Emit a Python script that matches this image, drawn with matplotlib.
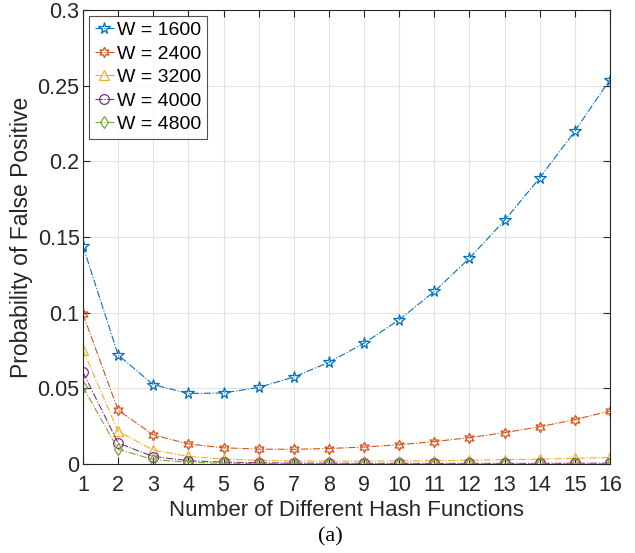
# False positive probability vs. number of hash functions, for several W

import numpy as np
import matplotlib
matplotlib.use("Agg")
import matplotlib.pyplot as plt

# values
hash_counts = np.arange(1, 17)
widths = ["1600", "2400", "3200", "4000", "4800"]

fp_1600 = [0.144, 0.072, 0.0524, 0.0466, 0.0469, 0.0506, 0.0574, 0.0672,
           0.0798, 0.0953, 0.114, 0.136, 0.161, 0.189, 0.220, 0.254]
fp_2400 = [0.099, 0.0355, 0.0193, 0.0132, 0.0107, 0.0098, 0.0097, 0.0102,
           0.0112, 0.0127, 0.0148, 0.0174, 0.0207, 0.0246, 0.0293, 0.0350]
fp_3200 = [0.0753, 0.0216, 0.0092, 0.0050, 0.0032, 0.0024, 0.0020, 0.0019,
           0.0019, 0.0020, 0.0022, 0.0025, 0.0028, 0.0032, 0.0037, 0.0043]
fp_4000 = [0.0606, 0.0138, 0.0049, 0.0022, 0.0012, 0.0008, 0.0006, 0.0005,
           0.0004, 0.0004, 0.0004, 0.0004, 0.0004, 0.0004, 0.0005, 0.0005]
fp_4800 = [0.0508, 0.0097, 0.0029, 0.0011, 0.0005, 0.0003, 0.0002, 0.0002,
           0.0001, 0.0001, 0.0001, 0.0001, 0.0001, 0.0001, 0.0001, 0.0001]

series = [fp_1600, fp_2400, fp_3200, fp_4000, fp_4800]
colors = ["#0072BD", "#D95319", "#EDB120", "#7E2F8E", "#77AC30"]
markers = ["*", (6, 1, 0), "^", "o", "d"]
msizes = [8.5, 7.5, 7.5, 7, 6.5]

plt.rcParams["font.family"] = ["Liberation Sans", "DejaVu Sans"]

fig = plt.figure(figsize=(6.35, 5.53), dpi=100)
ax = fig.add_axes([0.1307, 0.161, 0.83, 0.821])

for vals, w, c, m, ms in zip(series, widths, colors, markers, msizes):
    ax.plot(hash_counts, vals, linestyle="-.", color=c, linewidth=0.8,
            marker=m, markersize=ms, markerfacecolor="none",
            markeredgecolor=c, markeredgewidth=0.9, label=f"W = {w}")

ax.set_xlim(1, 16)
ax.set_ylim(0, 0.3)
ax.set_xticks(hash_counts)
ax.set_yticks([0, 0.05, 0.1, 0.15, 0.2, 0.25, 0.3])
ax.set_yticklabels(["0", "0.05", "0.1", "0.15", "0.2", "0.25", "0.3"])

ax.grid(True, color="#e3e3e3", linewidth=0.8)
ax.set_axisbelow(True)
for side in ax.spines.values():
    side.set_color("#262626")
    side.set_linewidth(0.8)
ax.tick_params(direction="in", top=True, right=True, length=5,
               labelsize=15.5, colors="#262626", width=0.8)
ax.tick_params(axis="x", pad=8)
ax.tick_params(axis="y", pad=2.5)

ax.set_xlabel("Number of Different Hash Functions", fontsize=16,
              color="#262626", labelpad=3)
ax.set_ylabel("Probability of False Positive", fontsize=16.5,
              color="#262626", labelpad=3)

leg = ax.legend(loc="upper left", fontsize=14, frameon=True, fancybox=False,
                edgecolor="#262626", handlelength=1.0, handletextpad=0.15,
                borderpad=0.3, labelspacing=0.3, borderaxespad=0.3)
leg.get_frame().set_linewidth(0.8)

fig.text(330 / 635, 1 - 537 / 553, "(a)", ha="center", va="center",
         fontsize=16, family=["Liberation Serif", "DejaVu Serif"])

fig.savefig("out.png", dpi=100)
